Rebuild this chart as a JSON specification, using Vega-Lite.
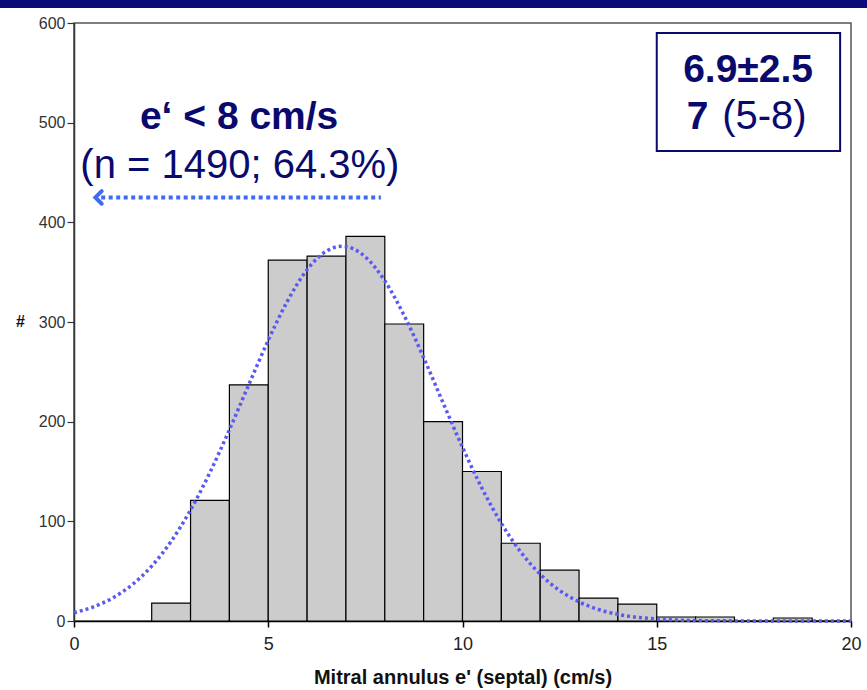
{
  "$schema": "https://vega.github.io/schema/vega-lite/v6.json",
  "width": 777,
  "height": 598,
  "autosize": "none",
  "padding": {"left": 74, "top": 23, "right": 16, "bottom": 69},
  "background": "white",
  "config": {
    "view": {"stroke": "#555555", "strokeWidth": 1.5},
    "font": "Liberation Sans"
  },
  "datasets": {
    "bins": [
      {"start": 2, "end": 3, "count": 18},
      {"start": 3, "end": 4, "count": 121},
      {"start": 4, "end": 5, "count": 237},
      {"start": 5, "end": 6, "count": 362},
      {"start": 6, "end": 7, "count": 366},
      {"start": 7, "end": 8, "count": 386},
      {"start": 8, "end": 9, "count": 298},
      {"start": 9, "end": 10, "count": 200},
      {"start": 10, "end": 11, "count": 150},
      {"start": 11, "end": 12, "count": 78},
      {"start": 12, "end": 13, "count": 51},
      {"start": 13, "end": 14, "count": 23},
      {"start": 14, "end": 15, "count": 17},
      {"start": 15, "end": 16, "count": 4},
      {"start": 16, "end": 17, "count": 4},
      {"start": 17, "end": 18, "count": 0},
      {"start": 18, "end": 19, "count": 3},
      {"start": 19, "end": 20, "count": 0}
    ],
    "curve": [
      {"x": 0, "y": 8.3}, {"x": 0.5, "y": 14.2}, {"x": 1, "y": 23.2}, {"x": 1.5, "y": 36.5},
      {"x": 2, "y": 55.1}, {"x": 2.5, "y": 79.9}, {"x": 3, "y": 111.4}, {"x": 3.5, "y": 149.1},
      {"x": 4, "y": 191.9}, {"x": 4.5, "y": 237.2}, {"x": 5, "y": 281.7}, {"x": 5.5, "y": 321.4},
      {"x": 6, "y": 352.4}, {"x": 6.5, "y": 371.2}, {"x": 6.9, "y": 376}, {"x": 7.5, "y": 365.3},
      {"x": 8, "y": 341.3}, {"x": 8.5, "y": 306.4}, {"x": 9, "y": 264.2}, {"x": 9.5, "y": 218.9},
      {"x": 10, "y": 174.3}, {"x": 10.5, "y": 133.3}, {"x": 11, "y": 98.0}, {"x": 11.5, "y": 69.2},
      {"x": 12, "y": 46.9}, {"x": 12.5, "y": 30.6}, {"x": 13, "y": 19.2}, {"x": 13.5, "y": 11.5},
      {"x": 14, "y": 6.7}, {"x": 14.5, "y": 3.7}, {"x": 15, "y": 2.0}, {"x": 16, "y": 0.5},
      {"x": 17, "y": 0.1}, {"x": 18, "y": 0}, {"x": 19, "y": 0}, {"x": 20, "y": 0}
    ],
    "band": [{"x": -2, "x2": 21, "y": 615, "y2": 625}],
    "box": [{"x": 15, "x2": 19.72, "y": 590, "y2": 471.5}],
    "arrow": [{"x": 0.7, "x2": 7.9, "y": 425}],
    "head": [{"x": 0.55, "y": 425}],
    "boldText": [
      {"x": 4.25, "y": 506, "label": "e‘ < 8 cm/s"},
      {"x": 17.35, "y": 553, "label": "6.9±2.5"},
      {"x": 16.05, "y": 506, "label": "7"}
    ],
    "normalText": [
      {"x": 4.27, "y": 457, "label": "(n = 1490; 64.3%)"},
      {"x": 17.77, "y": 506, "label": "(5-8)"}
    ]
  },
  "layer": [
    {
      "data": {"name": "band"},
      "mark": {"type": "rect", "color": "#0a0a78", "clip": false},
      "encoding": {
        "x": {"field": "x", "type": "quantitative"},
        "x2": {"field": "x2"},
        "y": {"field": "y", "type": "quantitative"},
        "y2": {"field": "y2"}
      }
    },
    {
      "data": {"name": "bins"},
      "mark": {"type": "rect", "fill": "#cccccc", "stroke": "#000000", "strokeWidth": 1.2},
      "encoding": {
        "x": {
          "field": "start", "type": "quantitative",
          "scale": {"domain": [0, 20], "nice": false, "zero": false},
          "axis": {
            "title": "Mitral annulus e' (septal) (cm/s)",
            "values": [0, 5, 10, 15, 20],
            "labelFlush": false,
            "labelFont": "Liberation Sans",
            "labelFontSize": 18,
            "labelColor": "#222222",
            "tickColor": "#000000",
            "tickSize": 6,
            "tickWidth": 1.5,
            "domainColor": "#000000",
            "domainWidth": 1.5,
            "labelPadding": 8,
            "grid": false,
            "titleFont": "Liberation Sans",
            "titleFontSize": 20,
            "titleFontWeight": "bold",
            "titleColor": "#111111",
            "titleBaseline": "top",
            "titleY": 46
          }
        },
        "x2": {"field": "end"},
        "y": {
          "field": "count", "type": "quantitative",
          "scale": {"domain": [0, 600], "nice": false},
          "axis": {
            "title": "#",
            "titleAngle": 0,
            "titleX": -54,
            "titleY": 306,
            "titleFontSize": 16,
            "titleFontWeight": "bold",
            "titleColor": "#111111",
            "values": [0, 100, 200, 300, 400, 500, 600],
            "labelFlush": false,
            "labelFont": "Liberation Sans",
            "labelFontSize": 16,
            "labelColor": "#333333",
            "tickColor": "#333333",
            "tickSize": 7,
            "tickWidth": 1.2,
            "domainColor": "#333333",
            "domainWidth": 1.5,
            "labelPadding": 2,
            "grid": false
          }
        },
        "y2": {"datum": 0}
      }
    },
    {
      "data": {"name": "curve"},
      "mark": {"type": "line", "color": "#5a5af0", "strokeWidth": 3.5, "strokeDash": [3, 3], "interpolate": "monotone"},
      "encoding": {
        "x": {"field": "x", "type": "quantitative"},
        "y": {"field": "y", "type": "quantitative"}
      }
    },
    {
      "data": {"name": "box"},
      "mark": {"type": "rect", "fill": "white", "stroke": "#0a0a6e", "strokeWidth": 2},
      "encoding": {
        "x": {"field": "x", "type": "quantitative"},
        "x2": {"field": "x2"},
        "y": {"field": "y", "type": "quantitative"},
        "y2": {"field": "y2"}
      }
    },
    {
      "data": {"name": "arrow"},
      "mark": {"type": "rule", "color": "#3d6cf2", "strokeWidth": 4, "strokeDash": [4, 3.5]},
      "encoding": {
        "x": {"field": "x", "type": "quantitative"},
        "x2": {"field": "x2"},
        "y": {"field": "y", "type": "quantitative"}
      }
    },
    {
      "data": {"name": "head"},
      "mark": {"type": "point", "shape": "M1,-1L0,0L1,1", "filled": false, "stroke": "#3d6cf2", "strokeWidth": 4, "size": 160, "opacity": 1, "strokeCap": "round", "strokeJoin": "miter"},
      "encoding": {
        "x": {"field": "x", "type": "quantitative"},
        "y": {"field": "y", "type": "quantitative"}
      }
    },
    {
      "data": {"name": "boldText"},
      "mark": {"type": "text", "font": "Liberation Sans", "fontWeight": "bold", "fontSize": 39, "color": "#0a0a6e", "baseline": "middle", "align": "center"},
      "encoding": {
        "x": {"field": "x", "type": "quantitative"},
        "y": {"field": "y", "type": "quantitative"},
        "text": {"field": "label"}
      }
    },
    {
      "data": {"name": "normalText"},
      "mark": {"type": "text", "font": "Liberation Sans", "fontSize": 40, "color": "#0a0a6e", "baseline": "middle", "align": "center"},
      "encoding": {
        "x": {"field": "x", "type": "quantitative"},
        "y": {"field": "y", "type": "quantitative"},
        "text": {"field": "label"}
      }
    }
  ]
}
